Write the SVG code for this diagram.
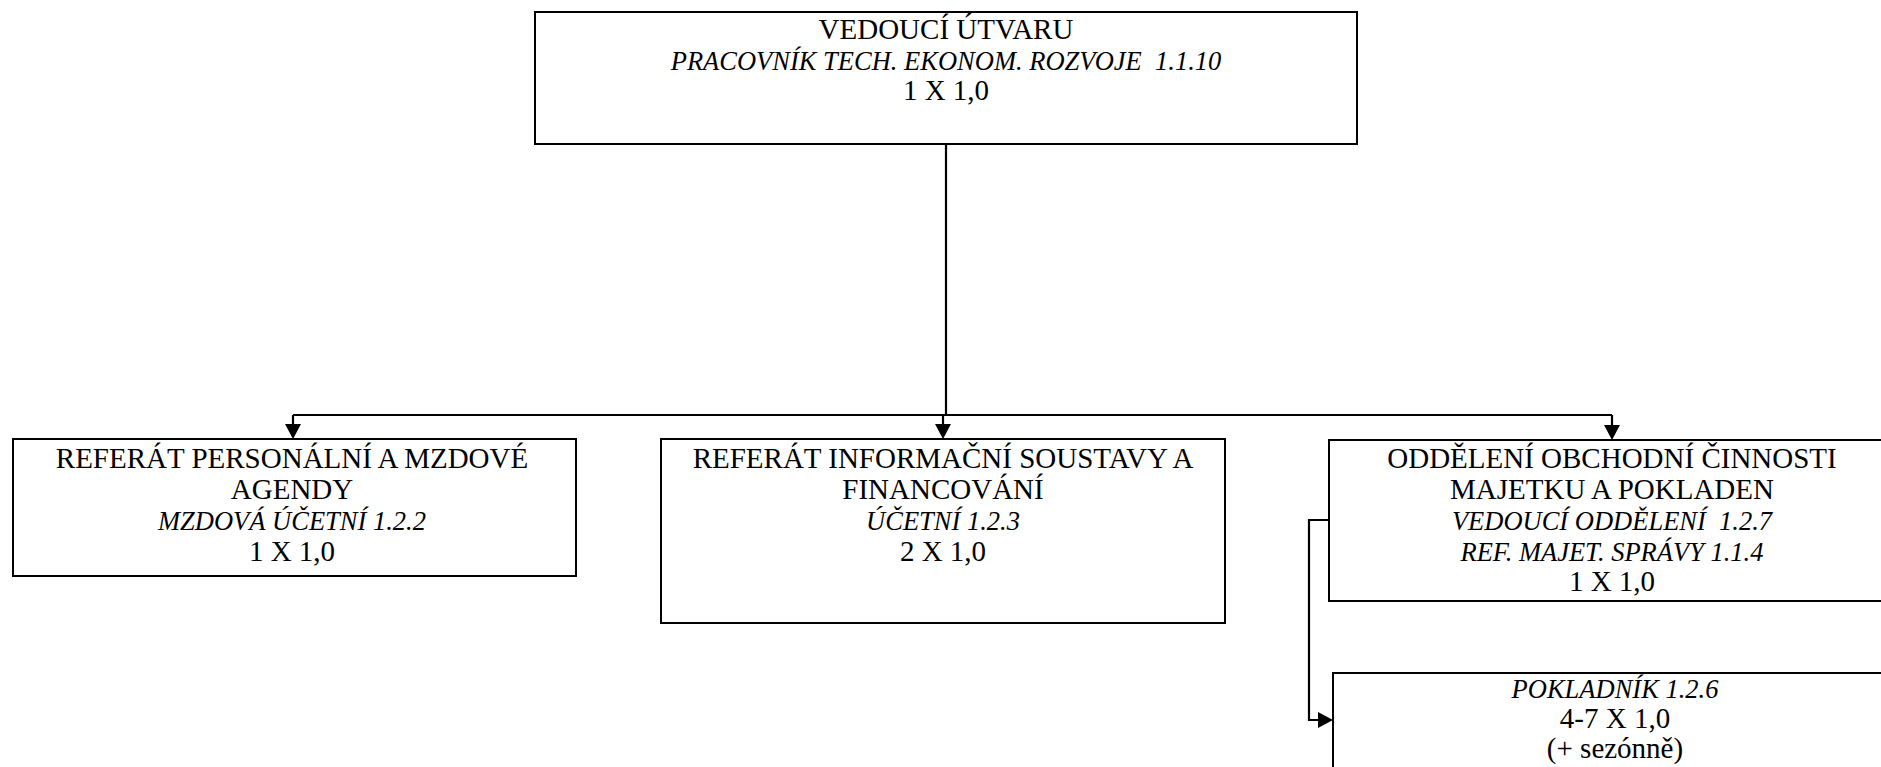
<svg xmlns="http://www.w3.org/2000/svg" width="1881" height="767" viewBox="0 0 1881 767">
  <style>
    .box { fill: #ffffff; stroke: #000000; stroke-width: 2; }
    .conn { fill: none; stroke: #000000; stroke-width: 2.2; }
    text { font-family: "Liberation Serif", "Times New Roman", serif; font-size: 29px; fill: #000000; text-anchor: middle; }
    .it { font-style: italic; font-size: 26.5px; }
  </style>
  <defs>
    <marker id="arrow" viewBox="0 0 15 16" refX="0" refY="8" markerWidth="15" markerHeight="16" orient="auto" markerUnits="userSpaceOnUse">
      <path d="M0,0 L15,8 L0,16 z" fill="#000000"/>
    </marker>
  </defs>
  <rect width="1881" height="767" fill="#ffffff"/>

  <g id="connectors">
    <path class="conn" d="M946,144 L946,415"/>
    <path class="conn" d="M293,415 L1612,415"/>
    <path class="conn" d="M293,415 L293,424" marker-end="url(#arrow)"/>
    <path class="conn" d="M943,415 L943,424" marker-end="url(#arrow)"/>
    <path class="conn" d="M1612,415 L1612,425" marker-end="url(#arrow)"/>
    <path class="conn" d="M1329,520 L1309,520 L1309,720 L1318,720" marker-end="url(#arrow)"/>
  </g>

  <g id="node-vedouci">
    <rect class="box" x="535" y="12" width="822" height="132"/>
    <text x="946" y="39">VEDOUCÍ ÚTVARU</text>
    <text class="it" x="946" y="70" xml:space="preserve">PRACOVNÍK TECH. EKONOM. ROZVOJE  1.1.10</text>
    <text x="946" y="100">1 X 1,0</text>
  </g>

  <g id="node-personalni">
    <rect class="box" x="13" y="439" width="563" height="137"/>
    <text x="292" y="468">REFERÁT PERSONÁLNÍ A MZDOVÉ</text>
    <text x="292" y="499">AGENDY</text>
    <text class="it" x="292" y="530">MZDOVÁ ÚČETNÍ 1.2.2</text>
    <text x="292" y="561">1 X 1,0</text>
  </g>

  <g id="node-informacni">
    <rect class="box" x="661" y="439" width="564" height="184"/>
    <text x="943" y="468">REFERÁT INFORMAČNÍ SOUSTAVY A</text>
    <text x="943" y="499">FINANCOVÁNÍ</text>
    <text class="it" x="943" y="530">ÚČETNÍ 1.2.3</text>
    <text x="943" y="561">2 X 1,0</text>
  </g>

  <g id="node-obchodni">
    <rect class="box" x="1329" y="440" width="570" height="161"/>
    <text x="1612" y="468">ODDĚLENÍ OBCHODNÍ ČINNOSTI</text>
    <text x="1612" y="499">MAJETKU A POKLADEN</text>
    <text class="it" x="1612" y="530" xml:space="preserve">VEDOUCÍ ODDĚLENÍ  1.2.7</text>
    <text class="it" x="1612" y="561">REF. MAJET. SPRÁVY 1.1.4</text>
    <text x="1612" y="591">1 X 1,0</text>
  </g>

  <g id="node-pokladnik">
    <rect class="box" x="1333" y="673" width="570" height="130"/>
    <text class="it" x="1615" y="698">POKLADNÍK 1.2.6</text>
    <text x="1615" y="728">4-7 X 1,0</text>
    <text x="1615" y="758">(+ sezónně)</text>
  </g>
</svg>
